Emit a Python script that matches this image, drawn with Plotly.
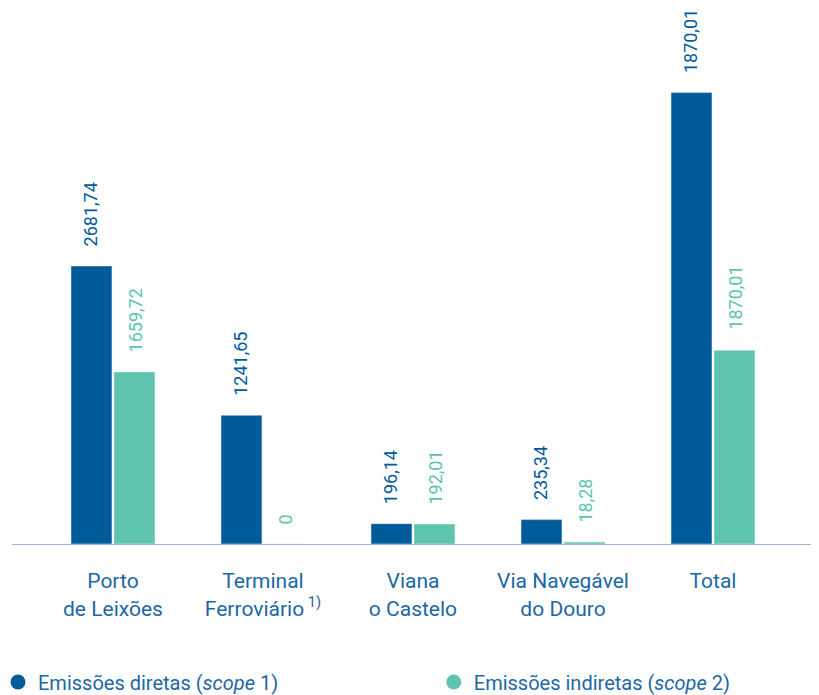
import plotly.graph_objects as go

categories = ["Porto<br>de Leixões", "Terminal<br>Ferroviário<sup> 1)</sup>", "Viana<br>o Castelo",
              "Via Navegável<br>do Douro", "Total"]
direct_values = [2681.74, 1241.65, 196.14, 235.34, 4354.87]
direct_labels = ["2681,74", "1241,65", "196,14", "235,34", "1870,01"]
indirect_values = [1659.72, 0, 192.01, 18.28, 1870.01]
indirect_labels = ["1659,72", "0", "192,01", "18,28", "1870,01"]

DARK = "#005b9b"
GREEN = "#5fc4ae"
TEXT = "#1c68a5"
FONT = "Roboto"

fig = go.Figure()
fig.add_trace(go.Bar(x=categories, y=direct_values, marker_color=DARK, showlegend=False))
fig.add_trace(go.Bar(x=categories, y=indirect_values, marker_color=GREEN, showlegend=False))

# legend entries with circular markers (one legend per entry for free placement)
fig.add_trace(go.Scatter(x=[None], y=[None], mode="markers", name="Emissões diretas (<i>scope</i> 1)",
                         marker=dict(color=DARK, size=15, symbol="circle"), legend="legend"))
fig.add_trace(go.Scatter(x=[None], y=[None], mode="markers", name="Emissões indiretas (<i>scope</i> 2)",
                         marker=dict(color=GREEN, size=15, symbol="circle"), legend="legend2"))

OFF = 0.15
for i in range(len(categories)):
    fig.add_annotation(x=i - OFF, y=direct_values[i], text=direct_labels[i], textangle=-90,
                       showarrow=False, yanchor="bottom", xanchor="center", yshift=18,
                       font=dict(family=FONT, size=18, color=DARK))
    fig.add_annotation(x=i + OFF, y=indirect_values[i], text=indirect_labels[i], textangle=-90,
                       showarrow=False, yanchor="bottom", xanchor="center", yshift=18,
                       font=dict(family=FONT, size=18, color=GREEN))

W, H = 811, 687
legend_common = dict(orientation="h", xanchor="left",
                     yref="container", y=0.019, yanchor="middle",
                     font=dict(family=FONT, size=20, color=TEXT), itemclick=False,
                     bgcolor="rgba(0,0,0,0)")

fig.update_layout(
    width=W, height=H,
    margin=dict(l=4, r=7, t=0, b=151, autoexpand=False),
    paper_bgcolor="white", plot_bgcolor="white",
    barmode="group", bargap=0.427, bargroupgap=0.047,
    font=dict(family=FONT, color=TEXT),
    legend=dict(legend_common, xref="paper", x=-0.0175),
    legend2=dict(legend_common, xref="container", x=0.525),
    xaxis=dict(type="category", range=[-0.673, 4.66], showline=True, linecolor="#9ab6da", linewidth=1,
               showgrid=False, ticks="", tickfont=dict(family=FONT, size=21, color=TEXT),
               ticklabelstandoff=18, fixedrange=True),
    yaxis=dict(range=[0, 5171], showgrid=False, zeroline=False, showticklabels=False,
               showline=False, fixedrange=True),
)

fig.write_html("out.html")
